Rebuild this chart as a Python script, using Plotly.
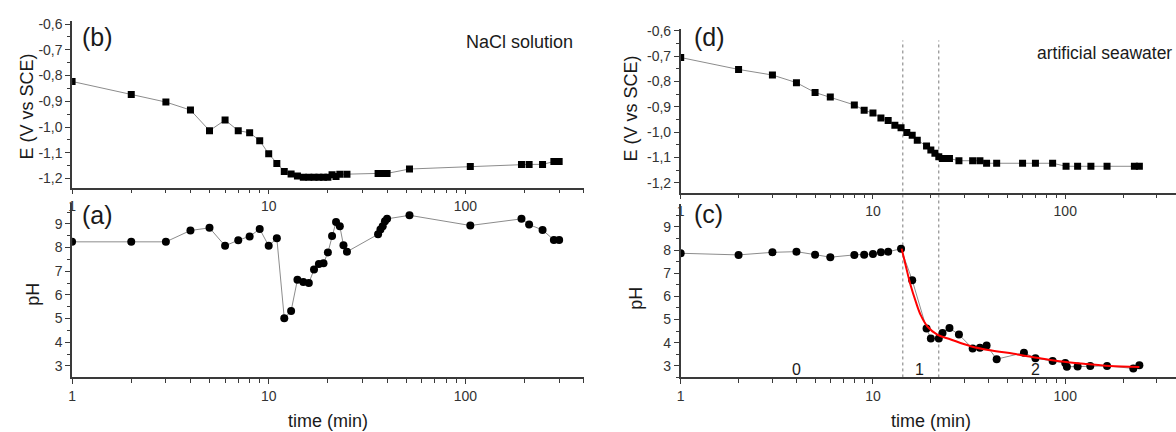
import numpy as np
import plotly.graph_objects as go

# ---- (b) NaCl solution: potential vs time ----
b_t = [1, 2, 3, 4, 5, 6, 7, 8, 9, 10, 11, 12, 13, 14, 15, 16, 17, 18, 19, 20,
       21, 22, 23, 25, 36, 38, 40, 52, 106, 193, 211, 247, 282, 300]
b_E = [-0.823, -0.874, -0.903, -0.934, -1.014, -0.973, -1.014, -1.022, -1.053, -1.104,
       -1.142, -1.173, -1.182, -1.190, -1.195, -1.195, -1.195, -1.195, -1.195, -1.195,
       -1.185, -1.192, -1.183, -1.183, -1.180, -1.180, -1.180, -1.163, -1.153, -1.145,
       -1.145, -1.145, -1.134, -1.134]

# ---- (a) NaCl solution: pH vs time ----
a_t = [1, 2, 3, 4, 5, 6, 7, 8, 9, 10, 11, 12, 13, 14, 15, 16, 17, 18, 19, 20,
       21, 22, 23, 24, 25, 36, 37, 38, 39, 40, 52, 106, 193, 211, 247, 282, 300]
a_pH = [8.24, 8.24, 8.24, 8.72, 8.83, 8.07, 8.31, 8.47, 8.78, 8.07,
        8.39, 5.01, 5.32, 6.64, 6.54, 6.50, 7.07, 7.30, 7.33, 7.79,
        8.49, 9.08, 8.90, 8.10, 7.82, 8.56, 8.76, 8.90, 9.11, 9.21,
        9.36, 8.93, 9.21, 8.97, 8.74, 8.32, 8.32]

# ---- (d) artificial seawater: potential vs time ----
d_t = [1, 2, 3, 4, 5, 6, 8, 9, 10, 11, 12, 13, 14, 15, 16, 17, 19, 20, 21, 22,
       23, 25, 28, 33, 36, 39, 44, 60, 70, 86, 101, 116, 136, 165, 229, 243]
d_E = [-0.706, -0.753, -0.775, -0.805, -0.844, -0.862, -0.893, -0.914, -0.925, -0.944,
       -0.954, -0.973, -0.983, -1.002, -1.013, -1.032, -1.055, -1.071, -1.084, -1.097,
       -1.104, -1.104, -1.113, -1.113, -1.113, -1.123, -1.123, -1.123, -1.123, -1.123,
       -1.135, -1.135, -1.135, -1.135, -1.135, -1.135]

# ---- (c) artificial seawater: pH vs time ----
c_t = [1, 2, 3, 4, 5, 6, 8, 9, 10, 11, 12, 14, 16, 19, 20, 22, 23, 25, 28, 33,
       36, 39, 44, 61, 70, 86, 100, 102, 116, 135, 165, 226, 243]
c_pH = [7.86, 7.79, 7.90, 7.93, 7.80, 7.69, 7.79, 7.80, 7.83, 7.90,
        7.93, 8.05, 6.70, 4.61, 4.18, 4.18, 4.42, 4.63, 4.35, 3.75,
        3.78, 3.88, 3.29, 3.57, 3.33, 3.21, 3.12, 2.96, 2.97, 3.00,
        3.00, 2.89, 3.03]

# fitted decay of pH after the drop (red curve)
fit_t = [14.1, 14.8, 15.7, 16.7, 17.7, 19.2, 21.6, 25.4, 32.2, 40.9, 54, 71, 91, 130, 170, 243]
fit_pH = [8.06, 7.33, 6.48, 5.77, 5.20, 4.70, 4.35, 4.14, 3.85, 3.67, 3.52, 3.35, 3.21, 3.08, 3.00, 2.95]

# stage boundaries and stage labels
stage_bounds = [14.3, 22]
stage_names = ["0", "1", "2"]
stage_label_t = [4, 17.4, 70]

E_ticks = [-0.6, -0.7, -0.8, -0.9, -1.0, -1.1, -1.2]
E_ticktext = ["-0,6", "-0,7", "-0,8", "-0,9", "-1,0", "-1,1", "-1,2"]
pH_ticks = [3, 4, 5, 6, 7, 8, 9]
t_ticks = [1, 10, 100]
t_minor = [2, 3, 4, 5, 6, 7, 8, 9, 20, 30, 40, 50, 60, 70, 80, 90, 200, 300, 400]

W, H = 1176, 432
FONT = "Arial, Liberation Sans, sans-serif"
AX = "#3a3a3a"
LINE = "#8c8c8c"


def xdom(a, b):
    return [a / W, min(b / W, 1.0)]


def ydom(top, bottom):
    return [1 - bottom / H, 1 - top / H]


fig = go.Figure()

sq = dict(symbol="square", size=7, color="black")
ci = dict(symbol="circle", size=8, color="black")
ln = dict(color=LINE, width=1)

fig.add_trace(go.Scatter(x=b_t, y=b_E, mode="lines+markers", marker=sq, line=ln,
                         xaxis="x", yaxis="y"))
fig.add_trace(go.Scatter(x=a_t, y=a_pH, mode="lines+markers", marker=ci, line=ln,
                         xaxis="x2", yaxis="y2"))
fig.add_trace(go.Scatter(x=d_t, y=d_E, mode="lines+markers", marker=sq, line=ln,
                         xaxis="x3", yaxis="y3"))
fig.add_trace(go.Scatter(x=c_t, y=c_pH, mode="lines+markers", marker=ci, line=ln,
                         xaxis="x4", yaxis="y4"))
fig.add_trace(go.Scatter(x=fit_t, y=fit_pH, mode="lines",
                         line=dict(color="#ff0000", width=2, shape="spline"),
                         xaxis="x4", yaxis="y4"))


def xaxis(dom, anchor, rng):
    return dict(
        type="log", domain=dom, anchor=anchor, range=rng,
        tickvals=t_ticks, ticktext=[str(v) for v in t_ticks],
        ticks="outside", ticklen=5, tickwidth=1.2, tickcolor=AX,
        minor=dict(tickvals=t_minor, ticks="outside", ticklen=4, tickwidth=1.2, tickcolor=AX),
        showline=True, linecolor=AX, linewidth=1.5,
        showgrid=False, zeroline=False,
        tickfont=dict(family=FONT, size=14, color="#333"),
    )


def yaxis_E(dom, anchor, rng):
    return dict(
        domain=dom, anchor=anchor, range=rng,
        tickvals=E_ticks, ticktext=E_ticktext,
        ticks="outside", ticklen=5, tickwidth=1.2, tickcolor=AX,
        minor=dict(dtick=0.05, ticks="outside", ticklen=3, tickwidth=1.2, tickcolor=AX),
        showline=True, linecolor=AX, linewidth=1.5,
        showgrid=False, zeroline=False,
        tickfont=dict(family=FONT, size=14, color="#333"),
    )


def yaxis_pH(dom, anchor, rng):
    return dict(
        domain=dom, anchor=anchor, range=rng,
        tickvals=pH_ticks,
        ticks="outside", ticklen=5, tickwidth=1.2, tickcolor=AX,
        minor=dict(dtick=0.5, ticks="outside", ticklen=3, tickwidth=1.2, tickcolor=AX),
        showline=True, linecolor=AX, linewidth=1.5,
        showgrid=False, zeroline=False,
        tickfont=dict(family=FONT, size=14, color="#333"),
    )


LX = xdom(68.3, 581.7)
RX = xdom(679, 1176)
right_top = np.log10(400) * (1176 - 679) / (1181 - 679)

fig.update_layout(
    width=W, height=H,
    margin=dict(l=0, r=0, t=0, b=0),
    paper_bgcolor="white", plot_bgcolor="white",
    showlegend=False,
    xaxis=xaxis(LX, "y", [0, np.log10(400)]),
    yaxis=yaxis_E(ydom(15, 184.3), "x", [-1.2357, -0.5874]),
    xaxis2=xaxis(LX, "y2", [0, np.log10(400)]),
    yaxis2=yaxis_pH(ydom(199.3, 376.7), "x2", [2.51, 9.90]),
    xaxis3=xaxis(RX, "y3", [0, right_top]),
    yaxis3=yaxis_E(ydom(23.3, 189.3), "x3", [-1.239, -0.5934]),
    xaxis4=xaxis(RX, "y4", [0, right_top]),
    yaxis4=yaxis_pH(ydom(200.7, 376.7), "x4", [2.50, 9.99]),
)

# dotted stage boundaries running through both right-hand panels
for tb in stage_bounds:
    fig.add_shape(type="line", xref="x4", yref="paper", x0=tb, x1=tb,
                  y0=1 - 376.7 / H, y1=1 - 35 / H,
                  line=dict(color="#7a7a7a", width=1, dash="dot"), layer="below")

ann = []


def text(x, y, s, size, xref="paper", yref="paper", xanchor="center", yanchor="middle",
         angle=0):
    ann.append(dict(x=x, y=y, xref=xref, yref=yref, text=s, showarrow=False,
                    xanchor=xanchor, yanchor=yanchor, textangle=angle,
                    font=dict(family=FONT, size=size, color="#1a1a1a")))


# panel letters
text(94 / W, 1 - 31 / H, "(b)", 25)
text(94 / W, 1 - 212 / H, "(a)", 25)
text(708 / W, 1 - 31 / H, "(d)", 25)
text(707 / W, 1 - 211 / H, "(c)", 25)

# solution labels
text(462 / W, 1 - 37 / H, "NaCl solution", 18, xanchor="left")
text(1174 / W, 1 - 48 / H, "artificial seawater", 17.5, xanchor="right")

# axis titles
text(23 / W, 1 - 102 / H, "E (V vs SCE)", 18, angle=-90)
text(29 / W, 1 - 292 / H, "pH", 18, angle=-90)
text(629 / W, 1 - 104 / H, "E (V vs SCE)", 18, angle=-90)
text(634 / W, 1 - 296 / H, "pH", 18, angle=-90)
text(325 / W, 1 - 421 / H, "time (min)", 18)
text(930 / W, 1 - 421 / H, "time (min)", 18)

# stage numbers
for name, tl in zip(stage_names, stage_label_t):
    text(np.log10(tl), 2.86, name, 16, xref="x4", yref="y4")

fig.update_layout(annotations=ann)

fig.write_html("out.html")
